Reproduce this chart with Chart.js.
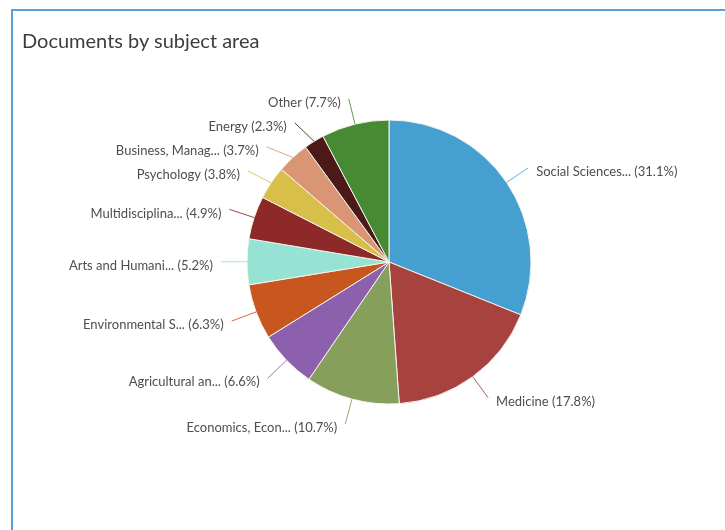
<!DOCTYPE html>
<html>
<head>
<meta charset="utf-8">
<script src="https://cdn.jsdelivr.net/npm/chart.js@4/dist/chart.umd.min.js"></script>
<style>
  html, body { margin: 0; padding: 0; background: #fff; overflow: hidden; }
  #frame {
    position: absolute; left: 11px; top: 9px; width: 800px; height: 600px;
    border: 2px solid #5b9fdf;
  }
  #title {
    position: absolute; left: 22px; top: 27px;
    font-family: Lato, sans-serif; font-size: 20px; line-height: 26px; color: #3d3d3d;
  }
  #wrap { position: absolute; left: 0; top: 0; width: 725px; height: 530px; }
</style>
</head>
<body>
<div id="frame"></div>
<div id="wrap"><canvas id="myChart" width="725" height="530"></canvas></div>
<div id="title">Documents by subject area</div>
<script>
// subject areas, clockwise from 12 o'clock
var subjects = ['Social Sciences...', 'Medicine', 'Economics, Econ...', 'Agricultural an...',
                'Environmental S...', 'Arts and Humani...', 'Multidisciplina...', 'Psychology',
                'Business, Manag...', 'Energy', 'Other'];
var shares = [31.1, 17.8, 10.7, 6.6, 6.3, 5.2, 4.9, 3.8, 3.7, 2.3, 7.7];
var sliceColors = ['#459fd0', '#a8423f', '#86a05b', '#8c60ad', '#c7561f', '#97e3d3',
                   '#8e2929', '#d7bf49', '#da9575', '#4c1919', '#478a34'];

// leader lines + outside labels
var outsideLabels = {
    id: 'outsideLabels',
    afterDatasetsDraw: function(chart) {
        var ctx = chart.ctx;
        var meta = chart.getDatasetMeta(0);
        var items = [];
        meta.data.forEach(function(arc, i) {
            var p = arc.getProps(['x', 'y', 'startAngle', 'endAngle', 'outerRadius']);
            var mid = (p.startAngle + p.endAngle) / 2;
            var R = p.outerRadius + 26;
            items.push({
                i: i, cx: p.x, cy: p.y, R: R,
                sx: p.x + Math.cos(mid) * p.outerRadius,
                sy: p.y + Math.sin(mid) * p.outerRadius,
                ey: p.y + Math.sin(mid) * R,
                right: Math.cos(mid) >= 0
            });
        });

        [true, false].forEach(function(side) {
            var list = items.filter(function(d) { return d.right === side; });
            list.sort(function(a, b) { return a.ey - b.ey; });
            for (var k = 1; k < list.length; k++) {
                if (list[k].ey < list[k - 1].ey + 24) list[k].ey = list[k - 1].ey + 24;
            }
        });

        ctx.save();
        ctx.font = '13px Lato, sans-serif';
        ctx.textBaseline = 'middle';
        items.forEach(function(d) {
            var dy = d.ey - d.cy;
            var dx = Math.abs(dy) < d.R ? Math.sqrt(d.R * d.R - dy * dy) : 0;
            var ex = d.right ? d.cx + dx : d.cx - dx;

            ctx.strokeStyle = sliceColors[d.i];
            ctx.globalAlpha = 0.85;
            ctx.lineWidth = 1;
            ctx.beginPath();
            ctx.moveTo(d.sx, d.sy);
            ctx.lineTo(ex, d.ey);
            ctx.stroke();
            ctx.globalAlpha = 1;

            ctx.fillStyle = '#4e4e4e';
            ctx.textAlign = d.right ? 'left' : 'right';
            var txt = subjects[d.i] + ' (' + shares[d.i].toFixed(1) + '%)';
            ctx.fillText(txt, d.right ? ex + 8 : ex - 8, d.ey + 4);
        });
        ctx.restore();
    }
};

var ctx = document.getElementById('myChart').getContext('2d');
var chart = new Chart(ctx, {
    type: 'pie',
    data: {
        labels: subjects,
        datasets: [{
            data: shares,
            backgroundColor: sliceColors,
            borderColor: '#f4f4ee',
            borderWidth: 1
        }]
    },
    options: {
        responsive: false,
        animation: false,
        events: [],
        radius: 142,
        layout: { padding: { left: 247, right: 194, top: 120, bottom: 126 } },
        plugins: {
            legend: { display: false },
            tooltip: { enabled: false }
        }
    },
    plugins: [outsideLabels]
});
</script>
</body>
</html>
